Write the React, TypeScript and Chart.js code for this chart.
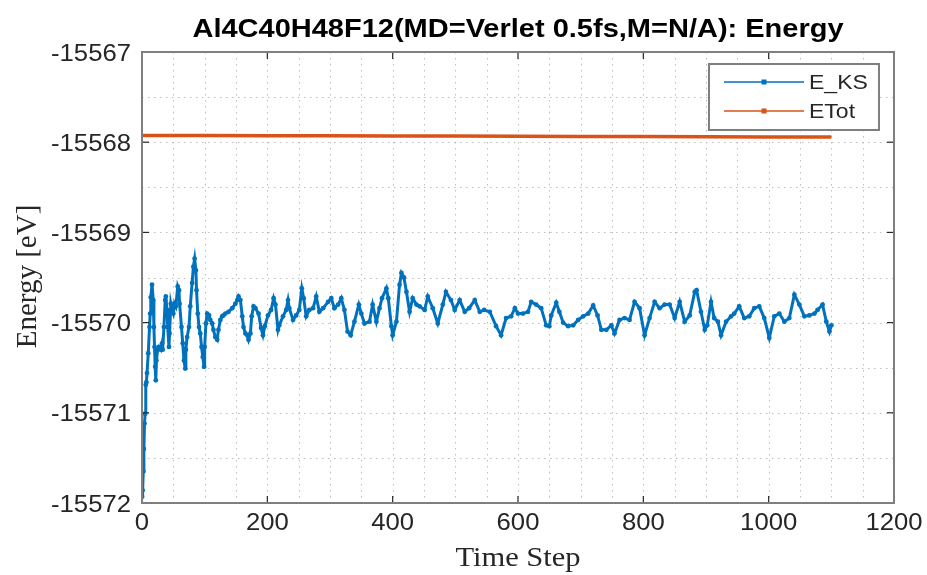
import React, { useEffect, useRef } from 'react';
import { Chart, registerables } from 'chart.js';

Chart.register(...registerables);

const TITLE = 'Al4C40H48F12(MD=Verlet 0.5fs,M=N/A): Energy';
const X_LABEL = 'Time Step';
const Y_LABEL = 'Energy [eV]';
const SERIES_NAMES = ['E_KS', 'ETot'];
const SERIES_COLORS = ['#0072BD', '#D95319'];

const X_TICKS = [0, 200, 400, 600, 800, 1000, 1200];
const Y_TICKS = [-15572, -15571, -15570, -15569, -15568, -15567];

// [time step, energy]
const E_KS: [number, number][] = [
  [0, -15571.93], [1, -15571.86], [2, -15571.65], [3, -15571.40], [4, -15571.12], [5, -15571.01],
  [6, -15570.69], [7, -15570.66], [8, -15570.56], [10, -15570.34], [12, -15570.05], [13, -15569.90],
  [14, -15569.72], [16, -15569.58], [18, -15569.75], [19, -15570.05], [20, -15570.27], [21, -15570.49],
  [22, -15570.64], [23, -15570.42], [25, -15570.30], [27, -15570.27], [30, -15570.30], [32, -15570.23],
  [33, -15570.30], [35, -15570.05], [37, -15569.75], [38, -15569.71], [40, -15569.86], [41, -15570.05],
  [43, -15570.27], [44, -15570.12], [46, -15569.79], [48, -15569.86], [50, -15569.90], [52, -15569.79],
  [54, -15569.82], [57, -15569.60], [59, -15569.64], [60, -15569.79], [63, -15570.05], [65, -15570.23],
  [67, -15570.42], [69, -15570.51], [70, -15570.30], [72, -15570.16], [75, -15570.05], [77, -15569.82],
  [80, -15569.56], [82, -15569.38], [84, -15569.29], [86, -15569.42], [87, -15569.64], [89, -15569.90],
  [91, -15570.05], [93, -15570.12], [95, -15570.27], [97, -15570.38], [99, -15570.49], [100, -15570.27],
  [102, -15570.01], [104, -15569.90], [107, -15569.92], [109, -15569.97], [112, -15570.01], [114, -15570.08],
  [117, -15570.16], [120, -15570.19], [122, -15570.08], [125, -15569.97], [128, -15569.93], [130, -15569.92],
  [133, -15569.90], [138, -15569.88], [144, -15569.84], [149, -15569.79], [152, -15569.75], [154, -15569.71],
  [157, -15569.75], [160, -15569.93], [162, -15570.05], [165, -15570.12], [168, -15570.14], [170, -15570.19],
  [173, -15570.12], [175, -15569.93], [178, -15569.82], [181, -15569.84], [186, -15569.90], [190, -15570.06],
  [193, -15570.14], [196, -15570.04], [201, -15569.92], [206, -15569.86], [210, -15569.73], [213, -15569.80],
  [217, -15570.08], [219, -15570.03], [225, -15569.93], [230, -15569.86], [233, -15569.75], [235, -15569.84],
  [241, -15569.97], [246, -15569.92], [251, -15569.86], [255, -15569.62], [258, -15569.73], [262, -15569.93],
  [267, -15569.86], [273, -15569.84], [278, -15569.71], [283, -15569.88], [289, -15569.84], [297, -15569.77],
  [302, -15569.73], [307, -15569.84], [313, -15569.80], [318, -15569.73], [323, -15569.86], [328, -15570.10],
  [333, -15570.14], [339, -15569.99], [346, -15569.80], [350, -15569.90], [355, -15570.01], [363, -15569.99],
  [368, -15569.80], [374, -15569.99], [379, -15569.84], [383, -15569.73], [390, -15569.62], [393, -15569.73],
  [398, -15570.04], [400, -15570.14], [406, -15569.99], [411, -15569.58], [414, -15569.45], [418, -15569.50],
  [422, -15569.66], [427, -15569.88], [432, -15569.73], [438, -15569.80], [443, -15569.82], [451, -15569.86],
  [456, -15569.71], [464, -15569.84], [472, -15570.01], [480, -15569.80], [485, -15569.66], [493, -15569.75],
  [499, -15569.86], [507, -15569.75], [515, -15569.88], [522, -15569.84], [531, -15569.75], [539, -15569.88],
  [546, -15569.86], [555, -15569.88], [565, -15570.04], [573, -15570.14], [581, -15569.95], [589, -15569.93],
  [595, -15569.84], [600, -15569.90], [608, -15569.90], [616, -15569.88], [621, -15569.77], [629, -15569.80],
  [637, -15569.84], [645, -15570.03], [650, -15570.04], [653, -15569.92], [661, -15569.78], [666, -15569.88],
  [672, -15570.00], [680, -15570.04], [688, -15570.03], [696, -15569.97], [704, -15569.93], [712, -15569.90],
  [720, -15569.81], [727, -15569.92], [733, -15570.08], [741, -15570.08], [749, -15570.03], [754, -15570.12],
  [762, -15569.97], [770, -15569.95], [778, -15569.97], [786, -15569.77], [794, -15569.84], [802, -15570.14],
  [810, -15569.95], [818, -15569.77], [826, -15569.84], [834, -15569.80], [842, -15569.80], [850, -15569.95],
  [858, -15569.77], [866, -15569.99], [874, -15569.92], [882, -15569.66], [885, -15569.64], [892, -15569.88],
  [898, -15570.08], [902, -15570.03], [908, -15569.77], [913, -15569.95], [919, -15569.99], [924, -15570.14],
  [932, -15569.99], [940, -15569.93], [945, -15569.90], [953, -15569.82], [961, -15569.95], [969, -15569.93],
  [977, -15569.84], [985, -15569.82], [993, -15569.95], [1001, -15570.17], [1009, -15569.93], [1017, -15569.90],
  [1025, -15569.99], [1033, -15569.95], [1041, -15569.69], [1049, -15569.80], [1057, -15569.93], [1065, -15569.92],
  [1073, -15569.90], [1078, -15569.86], [1086, -15569.80], [1092, -15569.99], [1097, -15570.10], [1100, -15570.03],
];

const E_TOT: [number, number][] = [
  [0, -15567.925], [100, -15567.926], [200, -15567.928], [300, -15567.929], [400, -15567.931], [500, -15567.932],
  [600, -15567.934], [700, -15567.936], [800, -15567.938], [900, -15567.940], [1000, -15567.942], [1100, -15567.943],
];

const AXIS_GRAY = '#7f7f7f';
const TEXT_COLOR = '#262626';

function drawText(
  ctx: CanvasRenderingContext2D, text: string, x: number, y: number,
  font: string, align: 'left' | 'center' | 'right', sx: number, color = TEXT_COLOR,
) {
  ctx.save();
  ctx.font = font;
  ctx.fillStyle = color;
  ctx.textBaseline = 'alphabetic';
  ctx.textAlign = 'left';
  const w = ctx.measureText(text).width * sx;
  const left = align === 'center' ? x - w / 2 : align === 'right' ? x - w : x;
  ctx.translate(left, y);
  ctx.scale(sx, 1);
  ctx.fillText(text, 0, 0);
  ctx.restore();
}

const decorPlugin = {
  id: 'decor',
  beforeDraw(chart: any) {
    const ctx = chart.ctx as CanvasRenderingContext2D;
    ctx.save();
    ctx.fillStyle = '#ffffff';
    ctx.fillRect(0, 0, chart.width, chart.height);
    ctx.restore();
  },
  beforeDatasetsDraw(chart: any) {
    const ctx = chart.ctx as CanvasRenderingContext2D;
    const { left, right, top, bottom } = chart.chartArea;
    const xs = chart.scales.x;
    const ys = chart.scales.y;
    ctx.save();
    ctx.strokeStyle = '#bdbdbd';
    ctx.lineWidth = 1;
    ctx.setLineDash([1.5, 4.5]);
    for (let v = 50; v < 1200; v += 50) {
      const px = Math.round(xs.getPixelForValue(v)) + 0.5;
      ctx.beginPath(); ctx.moveTo(px, top); ctx.lineTo(px, bottom); ctx.stroke();
    }
    for (let v = -15571.5; v < -15567; v += 0.5) {
      const py = Math.round(ys.getPixelForValue(v)) + 0.5;
      ctx.beginPath(); ctx.moveTo(left, py); ctx.lineTo(right, py); ctx.stroke();
    }
    ctx.restore();
  },
  afterDraw(chart: any) {
    const ctx = chart.ctx as CanvasRenderingContext2D;
    const { left, right, top, bottom } = chart.chartArea;
    const xs = chart.scales.x;
    const ys = chart.scales.y;

    // ticks (inward)
    ctx.save();
    ctx.strokeStyle = TEXT_COLOR;
    ctx.lineWidth = 1.2;
    const tl = 7;
    X_TICKS.forEach((v) => {
      const px = xs.getPixelForValue(v);
      ctx.beginPath(); ctx.moveTo(px, bottom); ctx.lineTo(px, bottom - tl); ctx.stroke();
      ctx.beginPath(); ctx.moveTo(px, top); ctx.lineTo(px, top + tl); ctx.stroke();
    });
    Y_TICKS.forEach((v) => {
      const py = ys.getPixelForValue(v);
      ctx.beginPath(); ctx.moveTo(left, py); ctx.lineTo(left + tl, py); ctx.stroke();
      ctx.beginPath(); ctx.moveTo(right, py); ctx.lineTo(right - tl, py); ctx.stroke();
    });
    ctx.restore();

    // axes box
    ctx.save();
    ctx.strokeStyle = AXIS_GRAY;
    ctx.lineWidth = 2;
    ctx.strokeRect(left, top, right - left, bottom - top);
    ctx.restore();

    // tick labels
    const tickFont = '24px "Liberation Sans", Arial, sans-serif';
    X_TICKS.forEach((v) => {
      drawText(ctx, String(v), xs.getPixelForValue(v), 530, tickFont, 'center', 1.07);
    });
    Y_TICKS.forEach((v) => {
      drawText(ctx, String(v), 131, ys.getPixelForValue(v) + 8.5, tickFont, 'right', 1.07);
    });

    // title
    drawText(ctx, TITLE, (left + right) / 2, 37, 'bold 25px "Liberation Sans", Arial, sans-serif', 'center', 1.16, '#000000');

    // axis labels
    drawText(ctx, X_LABEL, (left + right) / 2, 566, '28px "Liberation Serif", "Times New Roman", serif', 'center', 1.09);
    ctx.save();
    ctx.translate(36, (top + bottom) / 2 - 1);
    ctx.rotate(-Math.PI / 2);
    drawText(ctx, Y_LABEL, 0, 0, '29px "Liberation Serif", "Times New Roman", serif', 'center', 1.0);
    ctx.restore();

    // legend
    ctx.save();
    ctx.fillStyle = '#ffffff';
    ctx.fillRect(709, 64, 170, 66);
    ctx.strokeStyle = AXIS_GRAY;
    ctx.lineWidth = 2;
    ctx.strokeRect(709, 64, 170, 66);
    const rows = [82, 111];
    SERIES_NAMES.forEach((name, i) => {
      const y = rows[i];
      ctx.strokeStyle = SERIES_COLORS[i];
      ctx.lineWidth = 1.5;
      ctx.beginPath(); ctx.moveTo(724, y); ctx.lineTo(804, y); ctx.stroke();
      ctx.fillStyle = SERIES_COLORS[i];
      ctx.fillRect(761.5, y - 2.5, 5, 5);
      drawText(ctx, name, 809, y + 7, '20px "Liberation Sans", Arial, sans-serif', 'left', 1.15);
    });
    ctx.restore();
  },
};

export default function App() {
  const ref = useRef<HTMLCanvasElement | null>(null);
  useEffect(() => {
    document.body.style.margin = '0';
    const canvas = ref.current;
    if (!canvas) return;
    const chart = new Chart(canvas, {
      type: 'line',
      data: {
        datasets: [
          {
            label: SERIES_NAMES[0],
            data: E_KS.map(([x, y]) => ({ x, y })),
            borderColor: SERIES_COLORS[0],
            backgroundColor: SERIES_COLORS[0],
            borderWidth: 3,
            pointRadius: 2.4,
            pointBorderWidth: 0,
            pointBackgroundColor: SERIES_COLORS[0],
            tension: 0,
          },
          {
            label: SERIES_NAMES[1],
            data: E_TOT.map(([x, y]) => ({ x, y })),
            borderColor: SERIES_COLORS[1],
            backgroundColor: SERIES_COLORS[1],
            borderWidth: 3.5,
            pointRadius: 0,
            tension: 0,
          },
        ],
      },
      options: {
        responsive: false,
        animation: false,
        devicePixelRatio: 1,
        layout: { padding: { left: 142, right: 33, top: 52, bottom: 72 } },
        plugins: {
          legend: { display: false },
          title: { display: false },
          tooltip: { enabled: false },
        },
        scales: {
          x: { type: 'linear', min: 0, max: 1200, display: false },
          y: { type: 'linear', min: -15572, max: -15567, display: false },
        },
      },
      plugins: [decorPlugin],
    });
    return () => chart.destroy();
  }, []);
  return <canvas ref={ref} width={927} height={575} style={{ display: 'block' }} />;
}
